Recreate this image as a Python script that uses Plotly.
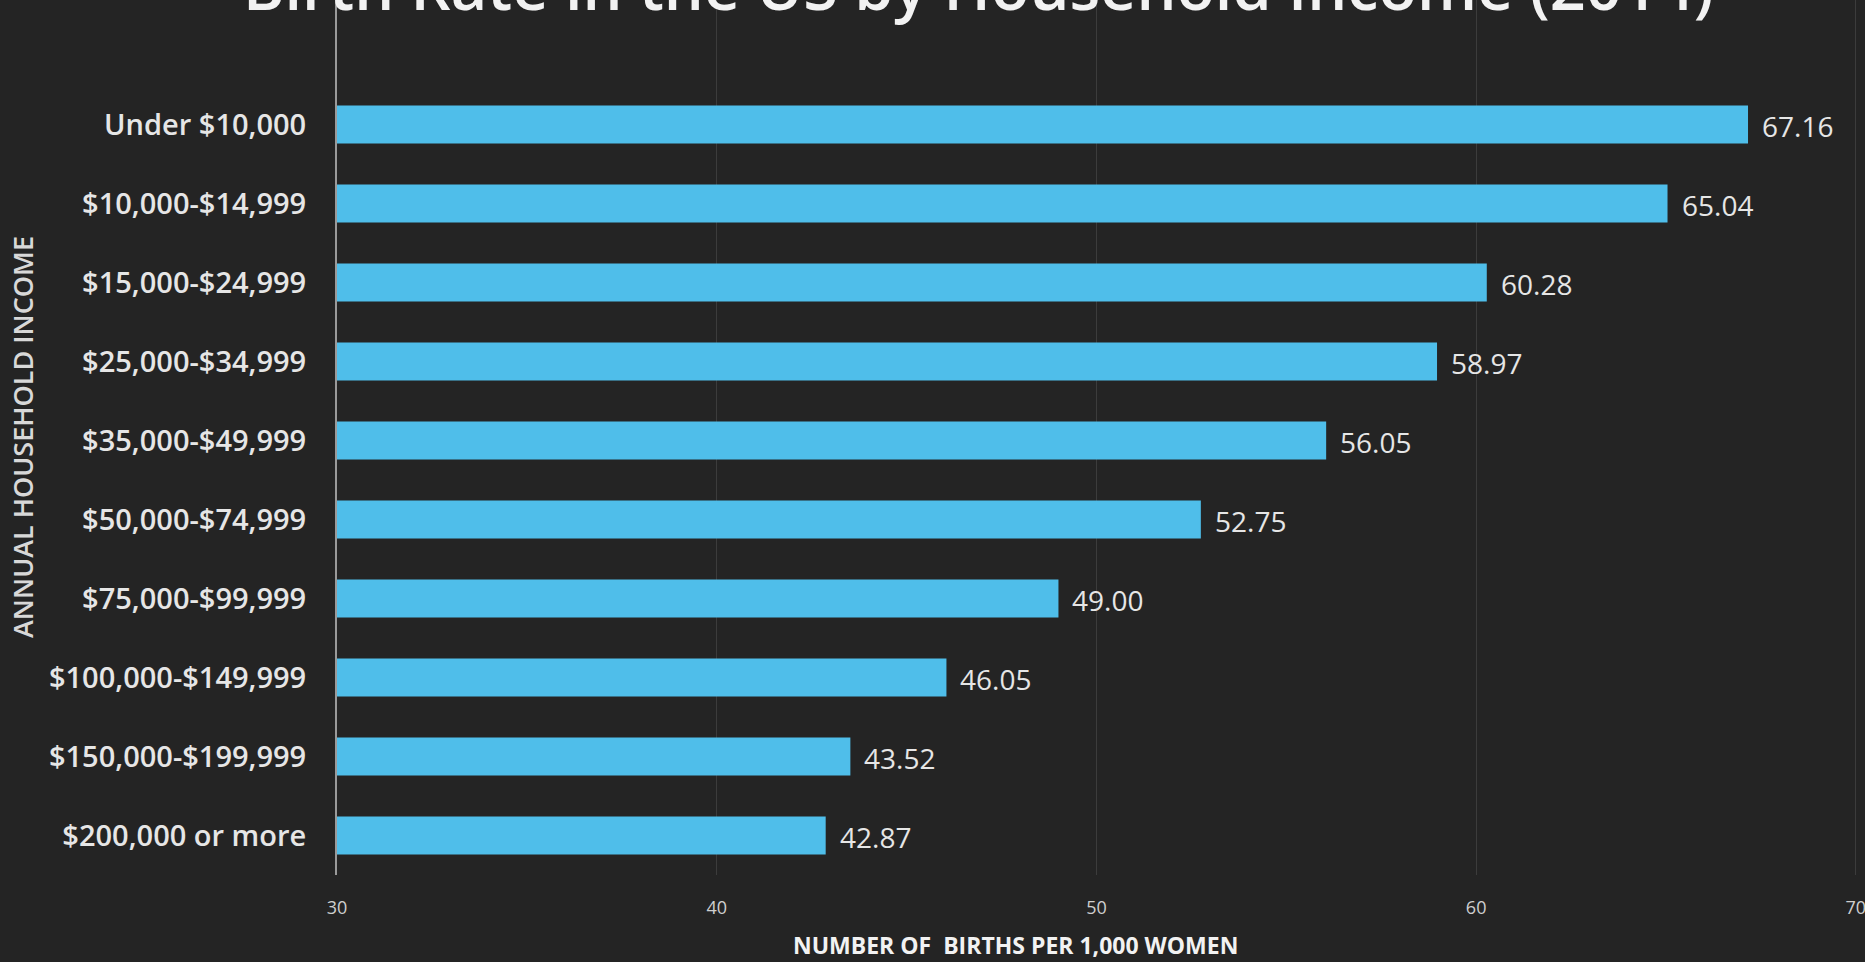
import plotly.graph_objects as go

# Income brackets (top to bottom) and births per 1,000 women
income_brackets = [
    "Under $10,000",
    "$10,000-$14,999",
    "$15,000-$24,999",
    "$25,000-$34,999",
    "$35,000-$49,999",
    "$50,000-$74,999",
    "$75,000-$99,999",
    "$100,000-$149,999",
    "$150,000-$199,999",
    "$200,000 or more",
]
birth_rates = [67.16, 65.04, 60.28, 58.97, 56.05, 52.75, 49.00, 46.05, 43.52, 42.87]
x_ticks = [30, 40, 50, 60, 70]

BG = "#242424"
TEXT = "#e6e6e6"
BAR = "#4fbeea"
FONT = "Open Sans"

W, H = 1865, 962
M_L, M_R, M_T, M_B = 337, 8, 0, 87
plot_h = H - M_T - M_B
plot_w = W - M_L - M_R

fig = go.Figure()
fig.add_trace(go.Bar(
    x=birth_rates,
    y=list(range(len(income_brackets))),
    orientation="h",
    base=0,
    marker=dict(color=BAR, line=dict(width=0)),
    hoverinfo="x",
))

annotations = []
# value labels just right of each bar end
for i, v in enumerate(birth_rates):
    annotations.append(dict(
        x=v, y=i, xref="x", yref="y", text=f"{v:.2f}",
        showarrow=False, xanchor="left", yanchor="middle", xshift=12, yshift=-1,
        font=dict(family=FONT, size=28, color=TEXT, weight=500),
    ))

# chart title, partly running off the top edge
annotations.append(dict(
    x=(978 - M_L) / plot_w, y=1 + 14 / plot_h, xref="paper", yref="paper",
    text="Birth Rate in the US by Household Income (2014)", showarrow=False,
    xanchor="center", yanchor="middle",
    font=dict(family=FONT, size=63, color="#f2f2f2", weight=600),
))

# axis titles
annotations.append(dict(
    x=(22 - M_L) / plot_w, y=1 - 437 / plot_h, xref="paper", yref="paper",
    text="ANNUAL HOUSEHOLD INCOME", showarrow=False, textangle=-90,
    xanchor="center", yanchor="middle",
    font=dict(family=FONT, size=27, color="#d8d8d8", weight=600),
))
annotations.append(dict(
    x=(1015 - M_L) / plot_w, y=-(945 - plot_h) / plot_h, xref="paper", yref="paper",
    text="NUMBER OF  BIRTHS PER 1,000 WOMEN", showarrow=False,
    xanchor="center", yanchor="middle",
    font=dict(family=FONT, size=23, color="#f2f2f2", weight=700),
))

n = len(income_brackets)
spacing = 79.0
fig.update_layout(
    width=W, height=H,
    margin=dict(l=M_L, r=M_R, t=M_T, b=M_B, pad=0),
    paper_bgcolor=BG, plot_bgcolor=BG,
    showlegend=False,
    bargap=0.52,
    annotations=annotations,
    xaxis=dict(
        range=[30, 70.03], tickvals=x_ticks, ticktext=[str(t) for t in x_ticks],
        showgrid=True, gridcolor="#3c3c3c", gridwidth=1,
        zeroline=False, showline=False, ticks="",
        tickfont=dict(family=FONT, size=18, color="#cfcfcf"),
        ticklabelstandoff=20, ticklabeloverflow="allow", fixedrange=True,
    ),
    yaxis=dict(
        range=[n - 0.5, n - 0.5 - plot_h / spacing],
        tickvals=list(range(n)), ticktext=income_brackets,
        showgrid=False, zeroline=False,
        showline=True, linecolor="#9a9a9a", linewidth=2,
        ticks="", ticklabelstandoff=23,
        tickfont=dict(family=FONT, size=29, color=TEXT, weight=600),
        fixedrange=True,
    ),
)

fig.write_html("out.html")
